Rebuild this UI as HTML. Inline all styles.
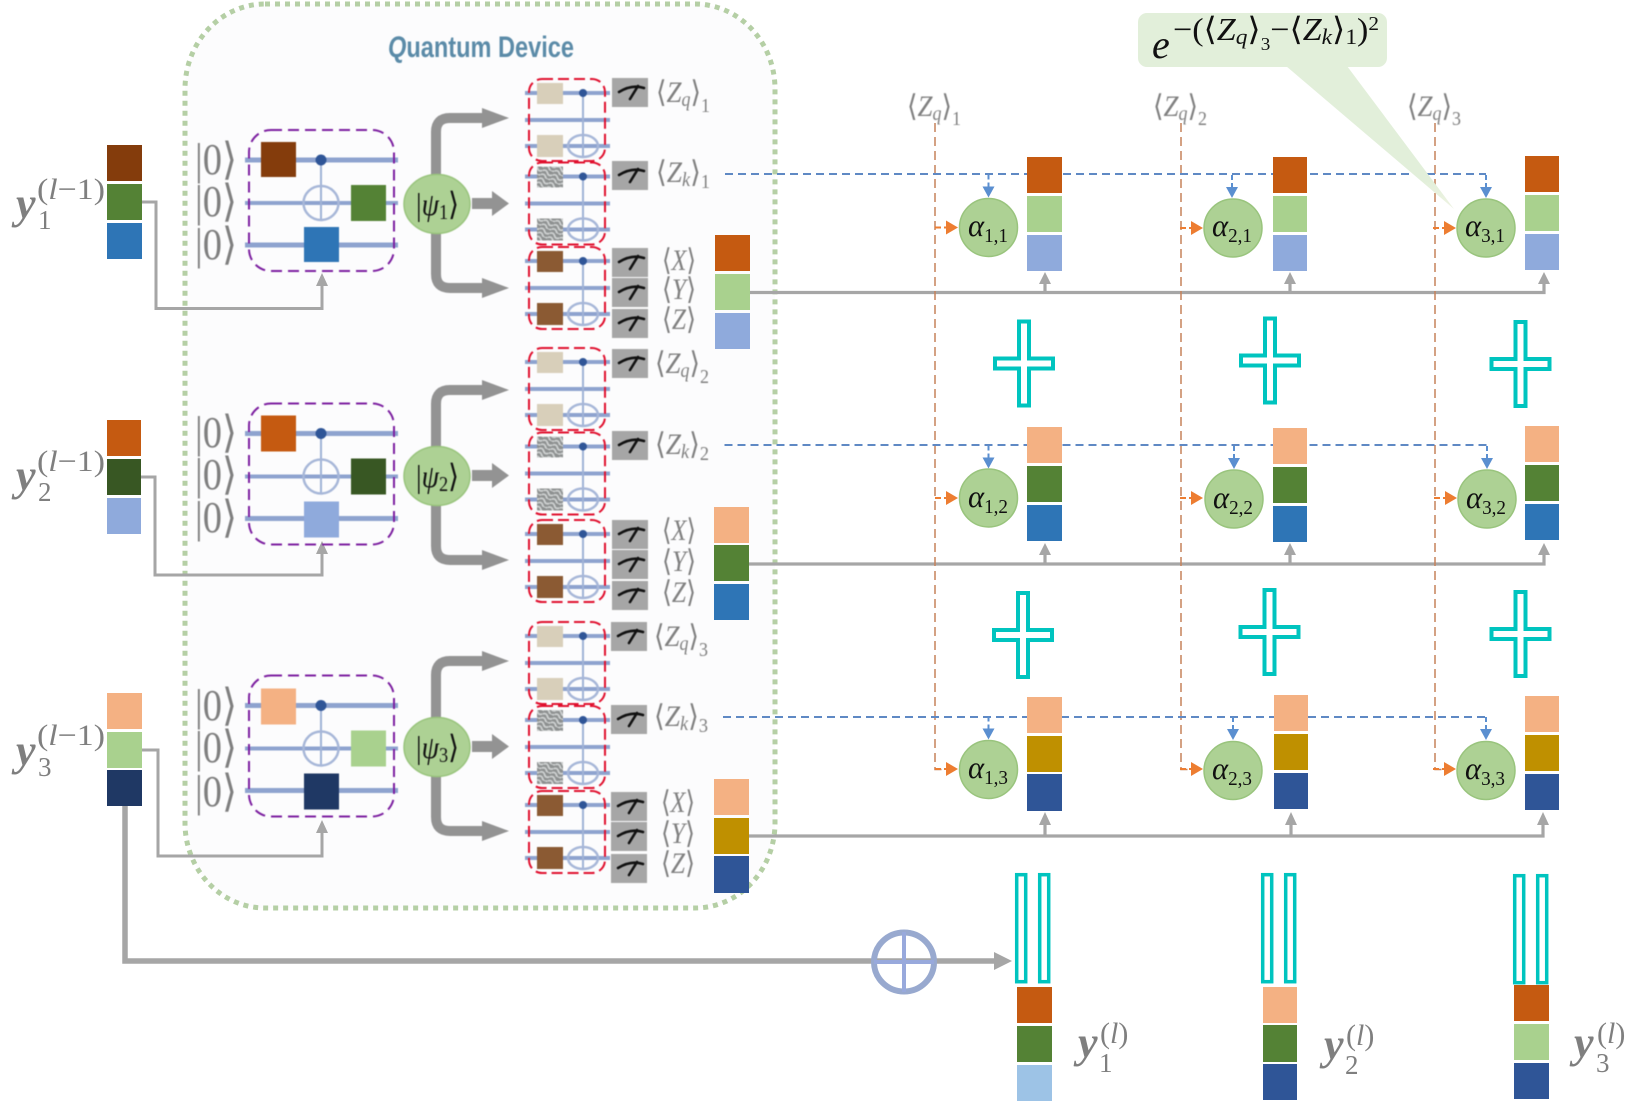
<!DOCTYPE html>
<html><head><meta charset="utf-8"><style>
html,body{margin:0;padding:0;background:#fff}
svg{display:block}
text{font-family:"Liberation Serif","DejaVu Serif",serif}
.lab{fill:#808080;font-size:30px}
.lab .i{font-style:italic}
.s{font-size:20px}
.big{fill:#7f7f7f;font-size:44px}
.a{fill:#111;font-size:32px;font-style:italic}
.as{fill:#111;font-size:20px}
.psi{fill:#111;font-size:32px}
.y{fill:#7f7f7f;font-size:44px;font-style:italic;font-weight:bold}
.ys{fill:#7f7f7f;font-size:27px}
.ysup{fill:#7f7f7f;font-size:30px}
.soft{filter:blur(.55px)}
</style></head><body>
<svg xmlns="http://www.w3.org/2000/svg" width="1642" height="1101" viewBox="0 0 1642 1101">
<defs>
<linearGradient id="tail" x1="0" y1="0" x2="0" y2="1"><stop offset="0" stop-color="#e2efda"/><stop offset=".8" stop-color="#e2efda"/><stop offset="1" stop-color="#eef3e2"/></linearGradient>
<pattern id="tex" width="11" height="9" patternUnits="userSpaceOnUse" patternTransform="rotate(25)"><rect width="11" height="9" fill="#8d9090"/><path d="M0 3 Q3 0 5.500 3 T11 3 M0 7.500 Q3 4.500 5.500 7.500 T11 7.500" fill="none" stroke="#cfd2d2" stroke-width="1.800"/></pattern>
<g id="lc">
<g stroke="#8ea3cf" fill="none"><path d="M245 30H398" stroke-width="5"/><path d="M245 73H398" stroke-width="4"/><path d="M245 115H398" stroke-width="5"/></g>
<path d="M321 30V90" stroke="#9fb2d6" stroke-width="2" fill="none"/>
<circle cx="321" cy="30" r="5.500" fill="#2f5597"/>
<ellipse cx="321" cy="73" rx="17.500" ry="17" fill="none" stroke="#a7b7d8" stroke-width="2.500"/>
<rect x="249" y="0" width="145" height="141" rx="22" fill="none" stroke="#7c1fa0" stroke-width="2" stroke-dasharray="11 6"/>
</g>
<g id="rc">
<g stroke="#8ea3cf" fill="none" stroke-width="4"><path d="M525 14H610"/><path d="M525 41H610"/><path d="M525 67H610"/></g>
<path d="M583 14V78" stroke="#9fb2d6" stroke-width="2" fill="none"/>
<circle cx="583" cy="14" r="4" fill="#2f5597"/>
<ellipse cx="583" cy="67" rx="15" ry="11" fill="none" stroke="#a7b7d8" stroke-width="2.500"/>
<rect x="529" y="0" width="76" height="82" rx="13" fill="none" stroke="#e0102e" stroke-width="2" stroke-dasharray="11 5"/>
</g>
<g id="rg"><rect x="537" y="4" width="26" height="21"/><rect x="537" y="56" width="26" height="22"/></g>
<g id="m"><rect width="36" height="29" fill="#a6a6a6"/><path d="M7 14Q20 6 32 10M18 21L26 8" fill="none" stroke="#111" stroke-width="2.600" stroke-linecap="round"/></g>
<g id="pl"><path d="M-5 -42H5V-5H29V5H5V42H-5V5H-29V-5H-5Z" fill="#fff" stroke="#00c4bf" stroke-width="4"/><path d="M-5 0H5M0 -5V5" stroke="#fff" stroke-width="6"/></g>
<g id="db"><rect x="1.700" y="1.700" width="9" height="107" fill="#fff" stroke="#00c4bf" stroke-width="3.500"/><rect x="24.700" y="1.700" width="9" height="107" fill="#fff" stroke="#00c4bf" stroke-width="3.500"/></g>
<g id="ab"><path d="M0 -23V-10" stroke="#5b8fd0" stroke-width="2" stroke-dasharray="5 3"/><path d="M0 0l-6 -11h12z" fill="#5b8fd0"/></g>
<g id="ao"><path d="M-23 0H-11" stroke="#ed7d31" stroke-width="2" stroke-dasharray="6 3"/><path d="M0 0l-12 -7v14z" fill="#ed7d31"/></g>
<g id="cir"><ellipse rx="29" ry="29" fill="#add194" stroke="#99c47d" stroke-width="1.500"/></g>
<g id="psia"><path d="M436 175V132Q436 118 450 118H484" fill="none" stroke="#939393" stroke-width="10"/><path d="M509 118L482 108V128Z" fill="#939393"/><path d="M472 198H492V191L509 203.500L492 216V209H472Z" fill="#939393"/><path d="M436 233V274Q436 288 450 288H484" fill="none" stroke="#939393" stroke-width="10"/><path d="M509 288L482 278V298Z" fill="#939393"/></g>
</defs>

<rect x="185" y="4" width="590" height="904" rx="80" ry="85" fill="#fcfcfd" stroke="#b5cfa5" stroke-width="5" stroke-dasharray="5 5"/>
<text class="soft" x="388" y="57" font-size="30" font-weight="bold" textLength="186" lengthAdjust="spacingAndGlyphs" fill="#5b8ba8" style="font-family:'Liberation Sans',sans-serif"><tspan font-style="italic">Q</tspan>uantum Device</text>

<!-- input connectors -->
<g fill="none" stroke="#a6a6a6" stroke-width="3">
<path d="M142 202H156V308.500H322V285"/>
<path d="M141 477H155V575H322V553"/>
<path d="M142 750H158V856H322V832"/>
</g>
<g fill="#a6a6a6"><path d="M322 273l-6 13h12z"/><path d="M322 541l-6 13h12z"/><path d="M322 820l-6 13h12z"/></g>

<!-- input stacks -->
<rect x="107" y="145" width="35" height="36" fill="#843c0c"/><rect x="107" y="184" width="35" height="36" fill="#548235"/><rect x="107" y="223" width="35" height="36" fill="#2e75b6"/>
<rect x="107" y="420" width="34" height="36" fill="#c55a11"/><rect x="107" y="459" width="34" height="36" fill="#385723"/><rect x="107" y="498" width="34" height="36" fill="#8faadc"/>
<rect x="107" y="693" width="35" height="36" fill="#f4b183"/><rect x="107" y="732" width="35" height="36" fill="#a9d18e"/><rect x="107" y="770" width="35" height="36" fill="#1f3864"/>

<!-- y labels left -->
<text x="16" y="218" class="y">y</text><text x="38" y="229" class="ys">1</text><text x="37" y="199" class="ysup" textLength="68" lengthAdjust="spacingAndGlyphs">(<tspan font-style="italic">l</tspan>−1)</text>
<text x="16" y="490" class="y">y</text><text x="38" y="501" class="ys">2</text><text x="37" y="471" class="ysup" textLength="68" lengthAdjust="spacingAndGlyphs">(<tspan font-style="italic">l</tspan>−1)</text>
<text x="16" y="765" class="y">y</text><text x="38" y="776" class="ys">3</text><text x="37" y="745" class="ysup" textLength="68" lengthAdjust="spacingAndGlyphs">(<tspan font-style="italic">l</tspan>−1)</text>

<g class="soft">
<!-- left circuits -->
<g transform="translate(0,130)"><use href="#lc"/><rect x="261" y="12" width="35" height="35" fill="#843c0c"/><rect x="351" y="55" width="35" height="36" fill="#548235"/><rect x="304" y="97" width="35" height="35" fill="#2e75b6"/></g>
<g transform="translate(0,403.500)"><use href="#lc"/><rect x="261" y="12" width="35" height="36" fill="#c55a11"/><rect x="351" y="55" width="35" height="36" fill="#385723"/><rect x="304" y="98" width="35" height="36" fill="#8faadc"/></g>
<g transform="translate(0,675.500)"><use href="#lc"/><rect x="261" y="13" width="35" height="36" fill="#f4b183"/><rect x="351" y="55" width="35" height="36" fill="#a9d18e"/><rect x="304" y="98" width="35" height="36" fill="#1f3864"/></g>

<text x="195" y="174" class="big" textLength="42" lengthAdjust="spacingAndGlyphs">|0⟩</text>
<text x="195" y="216" class="big" textLength="42" lengthAdjust="spacingAndGlyphs">|0⟩</text>
<text x="195" y="259" class="big" textLength="42" lengthAdjust="spacingAndGlyphs">|0⟩</text>
<text x="195" y="447" class="big" textLength="42" lengthAdjust="spacingAndGlyphs">|0⟩</text>
<text x="195" y="489" class="big" textLength="42" lengthAdjust="spacingAndGlyphs">|0⟩</text>
<text x="195" y="532" class="big" textLength="42" lengthAdjust="spacingAndGlyphs">|0⟩</text>
<text x="195" y="720" class="big" textLength="42" lengthAdjust="spacingAndGlyphs">|0⟩</text>
<text x="195" y="762" class="big" textLength="42" lengthAdjust="spacingAndGlyphs">|0⟩</text>
<text x="195" y="806" class="big" textLength="42" lengthAdjust="spacingAndGlyphs">|0⟩</text>

<!-- psi -->
<use href="#psia"/><use href="#psia" y="272"/><use href="#psia" y="543"/>
<g fill="#add194" stroke="#99c47d" stroke-width="1.500"><ellipse cx="437" cy="204" rx="33" ry="29.500"/><ellipse cx="437" cy="476" rx="33" ry="29.500"/><ellipse cx="437" cy="747" rx="33" ry="29.500"/></g>
<text x="416" y="215" class="psi" textLength="43" lengthAdjust="spacingAndGlyphs">|<tspan font-style="italic">ψ</tspan><tspan font-size="21" dy="4">1</tspan><tspan dy="-4">⟩</tspan></text>
<text x="416" y="487" class="psi" textLength="43" lengthAdjust="spacingAndGlyphs">|<tspan font-style="italic">ψ</tspan><tspan font-size="21" dy="4">2</tspan><tspan dy="-4">⟩</tspan></text>
<text x="416" y="758" class="psi" textLength="43" lengthAdjust="spacingAndGlyphs">|<tspan font-style="italic">ψ</tspan><tspan font-size="21" dy="4">3</tspan><tspan dy="-4">⟩</tspan></text>

<!-- red circuits -->
<g transform="translate(0,79)"><use href="#rc"/><use href="#rg" fill="#d8cfba"/></g>
<g transform="translate(0,162.500)"><use href="#rc"/><use href="#rg" fill="url(#tex)"/></g>
<g transform="translate(0,247)"><use href="#rc"/><use href="#rg" fill="#8b5a33"/></g>
<g transform="translate(0,348)"><use href="#rc"/><use href="#rg" fill="#d8cfba"/></g>
<g transform="translate(0,432.500)"><use href="#rc"/><use href="#rg" fill="url(#tex)"/></g>
<g transform="translate(0,520)"><use href="#rc"/><use href="#rg" fill="#8b5a33"/></g>
<g transform="translate(0,622)"><use href="#rc"/><use href="#rg" fill="#d8cfba"/></g>
<g transform="translate(0,706)"><use href="#rc"/><use href="#rg" fill="url(#tex)"/></g>
<g transform="translate(0,791)"><use href="#rc"/><use href="#rg" fill="#8b5a33"/></g>

<!-- meters -->
<use href="#m" x="612" y="78"/><use href="#m" x="612" y="161"/><use href="#m" x="612" y="248"/><use href="#m" x="612" y="278"/><use href="#m" x="612" y="309"/>
<use href="#m" x="612" y="349"/><use href="#m" x="612" y="431"/><use href="#m" x="612" y="520"/><use href="#m" x="612" y="550"/><use href="#m" x="612" y="581"/>
<use href="#m" x="611" y="622"/><use href="#m" x="611" y="705"/><use href="#m" x="611" y="792"/><use href="#m" x="611" y="822"/><use href="#m" x="611" y="854"/>

<!-- measurement labels -->
<g class="lab">
<text x="656" y="102" textLength="54" lengthAdjust="spacingAndGlyphs">⟨<tspan class="i">Z</tspan><tspan class="s i" dy="4">q</tspan><tspan dy="-4">⟩</tspan><tspan class="s" dy="10">1</tspan></text>
<text x="656" y="182" textLength="54" lengthAdjust="spacingAndGlyphs">⟨<tspan class="i">Z</tspan><tspan class="s i" dy="4">k</tspan><tspan dy="-4">⟩</tspan><tspan class="s" dy="6">1</tspan></text>
<text x="662" y="270" textLength="34" lengthAdjust="spacingAndGlyphs">⟨<tspan class="i">X</tspan>⟩</text><text x="662" y="299" textLength="34" lengthAdjust="spacingAndGlyphs">⟨<tspan class="i">Y</tspan>⟩</text><text x="662" y="329" textLength="34" lengthAdjust="spacingAndGlyphs">⟨<tspan class="i">Z</tspan>⟩</text>
<text x="655" y="373" textLength="54" lengthAdjust="spacingAndGlyphs">⟨<tspan class="i">Z</tspan><tspan class="s i" dy="4">q</tspan><tspan dy="-4">⟩</tspan><tspan class="s" dy="10">2</tspan></text>
<text x="655" y="454" textLength="54" lengthAdjust="spacingAndGlyphs">⟨<tspan class="i">Z</tspan><tspan class="s i" dy="4">k</tspan><tspan dy="-4">⟩</tspan><tspan class="s" dy="6">2</tspan></text>
<text x="662" y="540" textLength="34" lengthAdjust="spacingAndGlyphs">⟨<tspan class="i">X</tspan>⟩</text><text x="662" y="571" textLength="34" lengthAdjust="spacingAndGlyphs">⟨<tspan class="i">Y</tspan>⟩</text><text x="662" y="602" textLength="34" lengthAdjust="spacingAndGlyphs">⟨<tspan class="i">Z</tspan>⟩</text>
<text x="654" y="646" textLength="54" lengthAdjust="spacingAndGlyphs">⟨<tspan class="i">Z</tspan><tspan class="s i" dy="4">q</tspan><tspan dy="-4">⟩</tspan><tspan class="s" dy="10">3</tspan></text>
<text x="654" y="726" textLength="54" lengthAdjust="spacingAndGlyphs">⟨<tspan class="i">Z</tspan><tspan class="s i" dy="4">k</tspan><tspan dy="-4">⟩</tspan><tspan class="s" dy="6">3</tspan></text>
<text x="661" y="812" textLength="34" lengthAdjust="spacingAndGlyphs">⟨<tspan class="i">X</tspan>⟩</text><text x="661" y="843" textLength="34" lengthAdjust="spacingAndGlyphs">⟨<tspan class="i">Y</tspan>⟩</text><text x="661" y="873" textLength="34" lengthAdjust="spacingAndGlyphs">⟨<tspan class="i">Z</tspan>⟩</text>
<text x="907" y="116" textLength="54" lengthAdjust="spacingAndGlyphs">⟨<tspan class="i">Z</tspan><tspan class="s i" dy="4">q</tspan><tspan dy="-4">⟩</tspan><tspan class="s" dy="9">1</tspan></text>
<text x="1153" y="116" textLength="54" lengthAdjust="spacingAndGlyphs">⟨<tspan class="i">Z</tspan><tspan class="s i" dy="4">q</tspan><tspan dy="-4">⟩</tspan><tspan class="s" dy="9">2</tspan></text>
<text x="1407" y="116" textLength="54" lengthAdjust="spacingAndGlyphs">⟨<tspan class="i">Z</tspan><tspan class="s i" dy="4">q</tspan><tspan dy="-4">⟩</tspan><tspan class="s" dy="9">3</tspan></text>
</g>
</g>

<!-- gray output lines -->
<g fill="none" stroke="#a6a6a6" stroke-width="3.200">
<path d="M750 292.500H1544V282"/><path d="M749 564H1544V554"/><path d="M749 836H1543V824"/>
<path d="M1045 292V282M1290 292V282M1045 564V554M1290 564V554M1045 836V824M1291 836V824"/>
</g>
<g fill="#a6a6a6">
<path d="M1045 272l-6 12h12zM1290 272l-6 12h12zM1544 272l-6 12h12z"/>
<path d="M1045 543l-6 12h12zM1290 543l-6 12h12zM1544 543l-6 12h12z"/>
<path d="M1045 812l-6 13h12zM1291 812l-6 13h12zM1543 812l-6 13h12z"/>
</g>

<!-- orange verticals -->
<g fill="none" stroke="#c5825a" stroke-width="1.500" stroke-dasharray="9 5">
<path d="M935 123V769.500H946M1181 123V769.500H1192M1435 123V769.500H1446"/>
</g>
<!-- blue dashed horizontals -->
<g fill="none" stroke="#5f89c4" stroke-width="2" stroke-dasharray="8 5">
<path d="M725 174H1486"/><path d="M724.500 445H1488"/><path d="M723 717H1486"/>
</g>

<use href="#ab" x="988.500" y="197.500"/><use href="#ab" x="1232" y="198"/><use href="#ab" x="1486" y="198"/>
<use href="#ab" x="988.500" y="468.500"/><use href="#ab" x="1234" y="469"/><use href="#ab" x="1487" y="469"/>
<use href="#ab" x="988.500" y="739.500"/><use href="#ab" x="1233" y="740"/><use href="#ab" x="1486" y="740"/>
<use href="#ao" x="958" y="227.500"/><use href="#ao" x="1203" y="228"/><use href="#ao" x="1456" y="228"/>
<use href="#ao" x="958" y="498"/><use href="#ao" x="1203" y="498"/><use href="#ao" x="1457" y="498"/>
<use href="#ao" x="958" y="769"/><use href="#ao" x="1203" y="769"/><use href="#ao" x="1456" y="769"/>

<!-- output stacks (quantum device) -->
<rect x="715" y="235" width="35" height="36" fill="#c55a11"/><rect x="715" y="274" width="35" height="36" fill="#a9d18e"/><rect x="715" y="313" width="35" height="36" fill="#8faadc"/>
<rect x="714" y="507" width="35" height="36" fill="#f4b183"/><rect x="714" y="545" width="35" height="36" fill="#548235"/><rect x="714" y="584" width="35" height="36" fill="#2e75b6"/>
<rect x="714" y="779" width="35" height="36" fill="#f4b183"/><rect x="714" y="818" width="35" height="36" fill="#bf9000"/><rect x="714" y="856" width="35" height="37" fill="#2f5597"/>

<!-- right stacks -->
<g>
<rect x="1027" y="157" width="35" height="36" fill="#c55a11"/><rect x="1027" y="196" width="35" height="36" fill="#a9d18e"/><rect x="1027" y="235" width="35" height="36" fill="#8faadc"/>
<rect x="1273" y="157" width="34" height="36" fill="#c55a11"/><rect x="1273" y="196" width="34" height="36" fill="#a9d18e"/><rect x="1273" y="235" width="34" height="36" fill="#8faadc"/>
<rect x="1525" y="156" width="34" height="36" fill="#c55a11"/><rect x="1525" y="195" width="34" height="36" fill="#a9d18e"/><rect x="1525" y="234" width="34" height="36" fill="#8faadc"/>
<rect x="1027" y="427" width="35" height="36" fill="#f4b183"/><rect x="1027" y="466" width="35" height="36" fill="#548235"/><rect x="1027" y="505" width="35" height="36" fill="#2e75b6"/>
<rect x="1273" y="428" width="34" height="36" fill="#f4b183"/><rect x="1273" y="467" width="34" height="36" fill="#548235"/><rect x="1273" y="506" width="34" height="36" fill="#2e75b6"/>
<rect x="1525" y="426" width="34" height="36" fill="#f4b183"/><rect x="1525" y="465" width="34" height="36" fill="#548235"/><rect x="1525" y="504" width="34" height="36" fill="#2e75b6"/>
<rect x="1027" y="697" width="35" height="36" fill="#f4b183"/><rect x="1027" y="736" width="35" height="36" fill="#bf9000"/><rect x="1027" y="774" width="35" height="37" fill="#2f5597"/>
<rect x="1274" y="695" width="34" height="36" fill="#f4b183"/><rect x="1274" y="734" width="34" height="36" fill="#bf9000"/><rect x="1274" y="773" width="34" height="36" fill="#2f5597"/>
<rect x="1525" y="696" width="34" height="36" fill="#f4b183"/><rect x="1525" y="735" width="34" height="36" fill="#bf9000"/><rect x="1525" y="774" width="34" height="36" fill="#2f5597"/>
</g>

<!-- alpha circles -->
<use href="#cir" x="988.500" y="227.500"/><use href="#cir" x="1233" y="228"/><use href="#cir" x="1486" y="228"/>
<use href="#cir" x="988.500" y="498"/><use href="#cir" x="1234" y="499"/><use href="#cir" x="1487" y="499"/>
<use href="#cir" x="988.500" y="769.500"/><use href="#cir" x="1233" y="770.500"/><use href="#cir" x="1486" y="770.500"/>
<text x="968" y="236" class="a" textLength="40" lengthAdjust="spacingAndGlyphs">α<tspan class="as" font-style="normal" dy="6">1,1</tspan></text>
<text x="1212" y="236" class="a" textLength="40" lengthAdjust="spacingAndGlyphs">α<tspan class="as" font-style="normal" dy="6">2,1</tspan></text>
<text x="1465" y="236" class="a" textLength="40" lengthAdjust="spacingAndGlyphs">α<tspan class="as" font-style="normal" dy="6">3,1</tspan></text>
<text x="968" y="507" class="a" textLength="40" lengthAdjust="spacingAndGlyphs">α<tspan class="as" font-style="normal" dy="6">1,2</tspan></text>
<text x="1213" y="508" class="a" textLength="40" lengthAdjust="spacingAndGlyphs">α<tspan class="as" font-style="normal" dy="6">2,2</tspan></text>
<text x="1466" y="508" class="a" textLength="40" lengthAdjust="spacingAndGlyphs">α<tspan class="as" font-style="normal" dy="6">3,2</tspan></text>
<text x="968" y="778" class="a" textLength="40" lengthAdjust="spacingAndGlyphs">α<tspan class="as" font-style="normal" dy="6">1,3</tspan></text>
<text x="1212" y="779" class="a" textLength="40" lengthAdjust="spacingAndGlyphs">α<tspan class="as" font-style="normal" dy="6">2,3</tspan></text>
<text x="1465" y="779" class="a" textLength="40" lengthAdjust="spacingAndGlyphs">α<tspan class="as" font-style="normal" dy="6">3,3</tspan></text>

<!-- plus -->
<use href="#pl" x="1024" y="363.500"/><use href="#pl" x="1270" y="360.500"/><use href="#pl" x="1520.500" y="364"/>
<use href="#pl" x="1023" y="635"/><use href="#pl" x="1269.500" y="632"/><use href="#pl" x="1520.500" y="634"/>

<!-- double bars -->
<use href="#db" x="1015" y="873"/><use href="#db" x="1261" y="873"/><use href="#db" x="1513" y="874"/>

<!-- big arrow -->
<path d="M125 806V961H995" fill="none" stroke="#a6a6a6" stroke-width="5.500"/>
<path d="M1012 961L994 952V970Z" fill="#a6a6a6"/>
<ellipse cx="904" cy="962" rx="30" ry="29.500" fill="none" stroke="#98a9cf" stroke-width="6"/>
<path d="M904 932V992M874 962H934" stroke="#98a9dc" stroke-width="4"/>

<!-- bottom stacks -->
<rect x="1017" y="987" width="35" height="36" fill="#c55a11"/><rect x="1017" y="1026" width="35" height="36" fill="#548235"/><rect x="1017" y="1065" width="35" height="36" fill="#9dc3e6"/>
<rect x="1263" y="987" width="34" height="36" fill="#f4b183"/><rect x="1263" y="1025" width="34" height="37" fill="#548235"/><rect x="1263" y="1064" width="34" height="36" fill="#2f5597"/>
<rect x="1514" y="985" width="35" height="36" fill="#c55a11"/><rect x="1514" y="1024" width="35" height="36" fill="#a9d18e"/><rect x="1514" y="1063" width="35" height="36" fill="#2f5597"/>

<text x="1078" y="1057" class="y">y</text><text x="1099" y="1072" class="ys">1</text><text x="1100" y="1043" class="ysup">(<tspan font-style="italic">l</tspan>)</text>
<text x="1324" y="1059" class="y">y</text><text x="1345" y="1074" class="ys">2</text><text x="1346" y="1045" class="ysup">(<tspan font-style="italic">l</tspan>)</text>
<text x="1574" y="1057" class="y">y</text><text x="1596" y="1072" class="ys">3</text><text x="1597" y="1043" class="ysup">(<tspan font-style="italic">l</tspan>)</text>

<!-- callout -->
<path d="M1286 66L1347 66L1454 209Z" fill="url(#tail)"/>
<rect x="1138" y="13" width="249" height="54" rx="9" fill="#e2efda"/>
<text x="1152" y="58" font-size="40" font-style="italic" fill="#111">e</text>
<text x="1173" y="40" font-size="32" fill="#111" textLength="206" lengthAdjust="spacingAndGlyphs">−(⟨<tspan font-style="italic">Z</tspan><tspan font-size="22" font-style="italic" dy="4">q</tspan><tspan dy="-4">⟩</tspan><tspan font-size="18" dy="10">3</tspan><tspan dy="-10">−⟨</tspan><tspan font-style="italic">Z</tspan><tspan font-size="22" font-style="italic" dy="4">k</tspan><tspan dy="-4">⟩</tspan><tspan font-size="22" dy="4">1</tspan><tspan dy="-4">)</tspan><tspan font-size="20" dy="-10">2</tspan></text>
</svg>
</body></html>
